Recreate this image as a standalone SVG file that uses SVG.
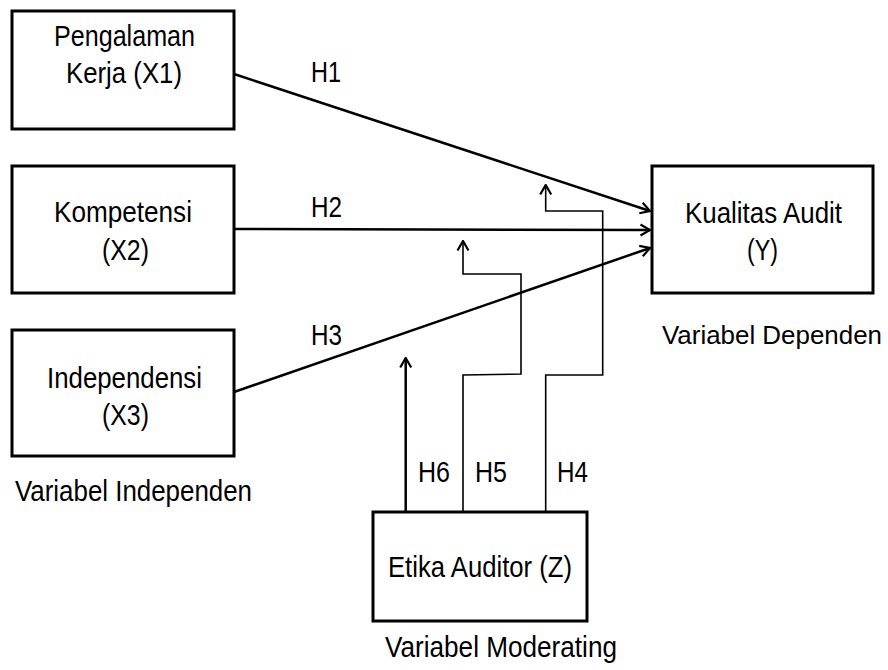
<svg xmlns="http://www.w3.org/2000/svg" width="888" height="670" viewBox="0 0 888 670">
<style>
.box{fill:#fff;stroke:#000;stroke-width:3}
.t{font-family:"Liberation Sans",Arial,sans-serif;font-size:29px;fill:#000}
.ln{fill:none;stroke:#000;stroke-width:2.5}
.el{fill:none;stroke:#000;stroke-width:1.6}
</style>
<defs>
<marker id="arr" viewBox="0 0 14 14" refX="12.5" refY="7" markerWidth="14" markerHeight="14" markerUnits="userSpaceOnUse" orient="auto">
<path d="M3,1.5 L12.5,7 L3,12.5" fill="none" stroke="#000" stroke-width="2.2"/>
</marker>
</defs>
<rect width="888" height="670" fill="#fff"/>
<g id="connectors">
<line class="ln" x1="234" y1="74" x2="650" y2="211" marker-end="url(#arr)"/>
<line class="ln" x1="234" y1="229" x2="650" y2="230" marker-end="url(#arr)"/>
<line class="ln" x1="234" y1="392" x2="650" y2="248" marker-end="url(#arr)"/>
<polyline class="el" points="545.7,512 545.7,375 602.7,375 602.7,211 545.7,211 545.7,185" marker-end="url(#arr)"/>
<polyline class="el" points="463,512 463,375 521,374 521,274 463,274 463,241" marker-end="url(#arr)"/>
<line class="ln" x1="405.7" y1="512" x2="405.7" y2="358" marker-end="url(#arr)"/>
<text class="t" x="311" y="82" textLength="30" lengthAdjust="spacingAndGlyphs">H1</text>
<text class="t" x="311" y="217" textLength="31" lengthAdjust="spacingAndGlyphs">H2</text>
<text class="t" x="311" y="345" textLength="31" lengthAdjust="spacingAndGlyphs">H3</text>
<text class="t" x="418" y="482" textLength="32" lengthAdjust="spacingAndGlyphs">H6</text>
<text class="t" x="475" y="482" textLength="32" lengthAdjust="spacingAndGlyphs">H5</text>
<text class="t" x="557" y="482" textLength="31" lengthAdjust="spacingAndGlyphs">H4</text>
</g>
<g id="x1">
<rect class="box" x="12" y="11" width="222" height="118"/>
<text class="t" x="54" y="46" textLength="141" lengthAdjust="spacingAndGlyphs">Pengalaman</text>
<text class="t" x="66" y="83" textLength="116" lengthAdjust="spacingAndGlyphs">Kerja (X1)</text>
</g>
<g id="x2">
<rect class="box" x="12" y="166" width="222" height="127"/>
<text class="t" x="54" y="222" textLength="138" lengthAdjust="spacingAndGlyphs">Kompetensi</text>
<text class="t" x="102" y="260" textLength="47" lengthAdjust="spacingAndGlyphs">(X2)</text>
</g>
<g id="x3">
<rect class="box" x="12" y="330" width="222" height="126"/>
<text class="t" x="47" y="388" textLength="155" lengthAdjust="spacingAndGlyphs">Independensi</text>
<text class="t" x="102" y="425" textLength="47" lengthAdjust="spacingAndGlyphs">(X3)</text>
</g>
<g id="y">
<rect class="box" x="652" y="166" width="221" height="127"/>
<text class="t" x="685" y="223" textLength="157" lengthAdjust="spacingAndGlyphs">Kualitas Audit</text>
<text class="t" x="747" y="260" textLength="31" lengthAdjust="spacingAndGlyphs">(Y)</text>
</g>
<g id="z">
<rect class="box" x="373" y="512" width="214" height="109"/>
<text class="t" x="388" y="577" textLength="184" lengthAdjust="spacingAndGlyphs">Etika Auditor (Z)</text>
</g>
<g id="labels">
<text class="t" x="15" y="501" textLength="237" lengthAdjust="spacingAndGlyphs">Variabel Independen</text>
<text class="t" x="662" y="344" style="font-size:25px" textLength="220" lengthAdjust="spacingAndGlyphs">Variabel Dependen</text>
<text class="t" x="385" y="657" textLength="232" lengthAdjust="spacingAndGlyphs">Variabel Moderating</text>
</g>
</svg>
